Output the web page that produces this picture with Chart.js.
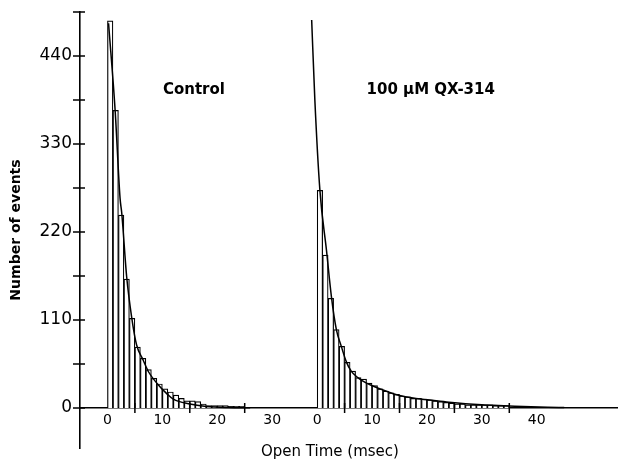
<!DOCTYPE html>
<html>
<head>
<meta charset="utf-8">
<script src="https://cdn.jsdelivr.net/npm/chart.js@4.4.1/dist/chart.umd.min.js"></script>
<style>
  html, body { margin: 0; padding: 0; background: #ffffff; }
  canvas { display: block; }
</style>
</head>
<body>
<canvas id="c" width="618" height="460"></canvas>
<script>
// ---- values ----
const binWidthMs = 1;
const controlCounts = [484, 372, 241, 161, 112, 76, 62, 48, 37, 30, 24, 20, 16, 12, 9, 9, 8, 5, 3, 3, 3, 3, 2, 2, 2];
const qxCounts = [272, 191, 137, 98, 77, 57, 46, 38, 36, 31, 28, 24, 21, 19, 17, 15, 14, 12, 12, 11, 10, 9, 8, 7, 6, 5, 5, 4, 4, 4, 4, 4, 3, 3, 3];
const controlFitTime = [0.2, 1.4, 2.3, 2.6, 3.5, 4.4, 5.3, 6.5, 7.5, 9.0, 10.8, 12.0, 15.0, 18.0, 22.0, 26.0];
const controlFitCount = [481, 372, 262, 244, 164, 114, 79, 60, 45, 31, 18, 11, 5, 2, 0.6, 0.2];
const qxFitTime = [-1.0, -0.42, 0.5, 1.7, 2.6, 3.5, 4.4, 5.3, 6.2, 7.4, 9.0, 12, 15, 18, 21, 24, 27, 30, 33, 36, 39, 42, 45];
const qxFitCount = [485, 385, 272, 197, 139, 98, 77, 58, 46, 38, 31, 22.5, 15.5, 12, 9.6, 7.3, 5.4, 4, 3, 2.2, 1.5, 1, 0.6];
const panelNames = ['Control', '100 \u00B5M QX-314'];
const controlTickValues = [0, 10, 20, 30];
const qxTickValues = [0, 10, 20, 30, 40];
const controlMinorTicks = [5, 15, 25];
const qxMinorTicks = [5, 15, 25, 35];
const yTickValues = [0, 55, 110, 165, 220, 275, 330, 385, 440, 495];
const yLabelledValues = [0, 110, 220, 330, 440];
const qxOffset = 38.2; // time origin of the second panel on the shared axis

const FONT = '"DejaVu Sans", "Liberation Sans", sans-serif';

const controlBars = controlCounts.map((n, i) => ({ x: (i + 0.5) * binWidthMs, y: n }));
const qxBars = qxCounts.map((n, i) => ({ x: qxOffset + (i + 0.5) * binWidthMs, y: n }));
const controlFit = controlFitTime.map((t, i) => ({ x: t, y: controlFitCount[i] }));
const qxFit = qxFitTime.map((t, i) => ({ x: qxOffset + t, y: qxFitCount[i] }));

const axisMarks = {
  id: 'axisMarks',
  afterDraw(chart) {
    const { ctx, chartArea, scales: { x, y } } = chart;
    const y0 = y.getPixelForValue(0);
    const ax = chartArea.left;
    ctx.save();
    ctx.strokeStyle = '#000';
    ctx.lineWidth = 1.5;
    ctx.beginPath();
    yTickValues.forEach(v => {
      const py = y.getPixelForValue(v);
      ctx.moveTo(ax - 7, py); ctx.lineTo(ax + 5, py);
    });
    controlMinorTicks.forEach(v => {
      const px = x.getPixelForValue(v);
      ctx.moveTo(px, y0 - 5); ctx.lineTo(px, y0 + 5);
    });
    qxMinorTicks.forEach(v => {
      const px = x.getPixelForValue(qxOffset + v);
      ctx.moveTo(px, y0 - 5); ctx.lineTo(px, y0 + 5);
    });
    ctx.stroke();
    ctx.fillStyle = '#000';
    ctx.font = 'bold 15px ' + FONT;
    ctx.textBaseline = 'middle';
    ctx.textAlign = 'left';
    ctx.fillText(panelNames[0], x.getPixelForValue(10.1), y.getPixelForValue(397));
    ctx.fillText(panelNames[1], x.getPixelForValue(qxOffset + 9.0), y.getPixelForValue(397));
    ctx.restore();
  }
};

new Chart(document.getElementById('c'), {
  type: 'bar',
  data: {
    datasets: [
      { type: 'line', data: controlFit, borderColor: '#000', borderWidth: 1.5, pointRadius: 0,
        cubicInterpolationMode: 'monotone', fill: false, order: 0 },
      { type: 'line', data: qxFit, borderColor: '#000', borderWidth: 1.5, pointRadius: 0,
        cubicInterpolationMode: 'monotone', fill: false, order: 0 },
      { type: 'bar', data: controlBars, backgroundColor: '#fff', borderColor: '#000', borderWidth: 1.2,
        barPercentage: 1, categoryPercentage: 1, grouped: false, order: 1 },
      { type: 'bar', data: qxBars, backgroundColor: '#fff', borderColor: '#000', borderWidth: 1.2,
        barPercentage: 1, categoryPercentage: 1, grouped: false, order: 1 }
    ]
  },
  options: {
    responsive: false,
    animation: false,
    events: [],
    layout: { padding: { top: 12, left: 0, right: 0, bottom: 12 } },
    plugins: { legend: { display: false }, tooltip: { enabled: false } },
    scales: {
      x: {
        type: 'linear', min: -5, max: 93, bounds: 'data', offset: false,
        position: { y: 0 }, z: 1,
        grid: { display: false, drawTicks: false, tickLength: 0, offset: false },
        border: { display: true, color: '#000', width: 1.6 },
        afterBuildTicks: (s) => {
          s.ticks = controlTickValues.map(v => ({ value: v }))
            .concat(qxTickValues.map(v => ({ value: qxOffset + v })));
        },
        afterFit: (s) => { s.height = 12; s.paddingLeft = 0; s.paddingRight = 0; },
        ticks: {
          autoSkip: false, maxRotation: 0, padding: 4, color: '#000',
          font: { family: FONT, size: 14 },
          callback: (v) => String(Math.round(v >= qxOffset - 1 ? v - qxOffset : v))
        },
        title: {
          display: true, text: 'Open Time (msec)        ', color: '#000',
          font: { family: FONT, size: 15 }, padding: { top: 0, bottom: -41 }
        }
      },
      y: {
        type: 'linear', min: -50, max: 495, bounds: 'data', z: 1,
        grid: { display: false, drawTicks: false, tickLength: 0 },
        border: { display: true, color: '#000', width: 1.6 },
        afterBuildTicks: (s) => { s.ticks = yTickValues.map(v => ({ value: v })); },
        afterFit: (s) => { s.width = 80; s.paddingTop = 0; s.paddingBottom = 0; },
        ticks: {
          padding: 8, color: '#000', font: { family: FONT, size: 17 },
          callback: (v) => (yLabelledValues.includes(v) ? String(v) : '')
        },
        title: {
          display: true, text: 'Number of events', color: '#000',
          font: { family: FONT, size: 14, weight: 'bold' }, padding: { top: 8, bottom: 0 }
        }
      }
    }
  },
  plugins: [axisMarks]
});
</script>
</body>
</html>
